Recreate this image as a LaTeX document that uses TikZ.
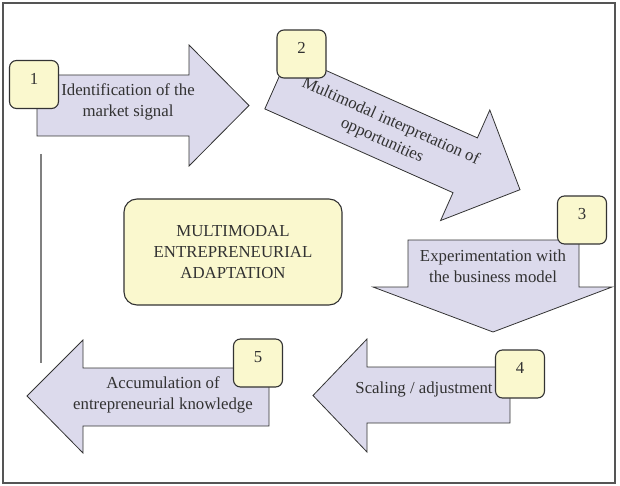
\documentclass[tikz,border=0pt]{standalone}
\usepackage{fontspec}
\setmainfont{Liberation Serif}

\definecolor{lavender}{RGB}{220,218,236}
\definecolor{paleyellow}{RGB}{250,248,206}
\definecolor{textgray}{RGB}{50,50,50}
\definecolor{framegray}{RGB}{85,85,85}

\begin{document}
\begin{tikzpicture}[x=1pt, y=-1pt,
    flow/.style={
        draw=black!80,
        fill=lavender,
        line width=0.8pt,
        line join=miter
    },
    stepnum/.style={
        draw=black!80,
        fill=paleyellow,
        line width=1.1pt,
        rounded corners=7pt,
        minimum width=49pt,
        minimum height=48pt,
        inner sep=0pt,
        text depth=12pt,
        font=\fontsize{16.8}{20}\selectfont,
        text=textgray
    },
    steptext/.style={
        align=center,
        inner sep=0pt,
        font=\fontsize{16.8}{21}\selectfont,
        text=textgray
    },
    core/.style={
        draw=black!80,
        fill=paleyellow,
        line width=1.1pt,
        rounded corners=13pt,
        minimum width=218pt,
        minimum height=106pt,
        align=center,
        font=\fontsize{16.8}{21}\selectfont,
        text=textgray
    }
]
\useasboundingbox (0,0) rectangle (620,486);

% --- Frame ---
\draw[framegray, line width=1.5pt] (3,3) rectangle (615,483);

% --- Return line ---
\coordinate (ltop) at (41,154);
\coordinate (lbot) at (41,363);
\draw[black!50, line width=1.4pt] (ltop) -- (lbot);

% --- Step 1 ---
\draw[flow] (37,75) -- (189,75) -- (189,45) -- (249,105.5) -- (189,166)
    -- (189,136) -- (37,136) -- cycle;
\node[steptext] (t1) at (128,102) {Identification of the\\market signal};
\node[stepnum] (n1) at (34,84.5) {1};

% --- Step 2 ---
\begin{scope}[shift={(277,81.5)}, rotate=-24]
\draw[flow] (0,-30) -- (206,-30) -- (206,-60.5) -- (266,0) -- (206,60.5)
    -- (206,30) -- (0,30) -- cycle;
\node[steptext, rotate=-24] (t2) at (120,1) {Multimodal interpretation of\\opportunities};
\end{scope}
\node[stepnum] (n2) at (301.5,54) {2};

% --- Step 3 ---
\draw[flow] (408,240) -- (579,240) -- (579,287) -- (612,287) -- (493,332)
    -- (373,287) -- (408,287) -- cycle;
\node[steptext] (t3) at (493,266.5) {Experimentation with\\the business model};
\node[stepnum] (n3) at (582,220) {3};

% --- Step 4 ---
\draw[flow] (510,367) -- (367,367) -- (367,339) -- (313,395.5) -- (367,452)
    -- (367,423) -- (510,423) -- cycle;
\node[steptext] (t4) at (424,389) {Scaling / adjustment};
\node[stepnum] (n4) at (520,374) {4};

% --- Step 5 ---
\draw[flow] (269,368) -- (83,368) -- (83,340) -- (27,396) -- (83,453)
    -- (83,426) -- (269,426) -- cycle;
\node[steptext] (t5) at (163,395) {Accumulation of\\entrepreneurial knowledge};
\node[stepnum] (n5) at (258,363) {5};

% --- Centre ---
\node[core] (mid) at (233,252) {MULTIMODAL\\ENTREPRENEURIAL\\ADAPTATION};

\end{tikzpicture}
\end{document}
